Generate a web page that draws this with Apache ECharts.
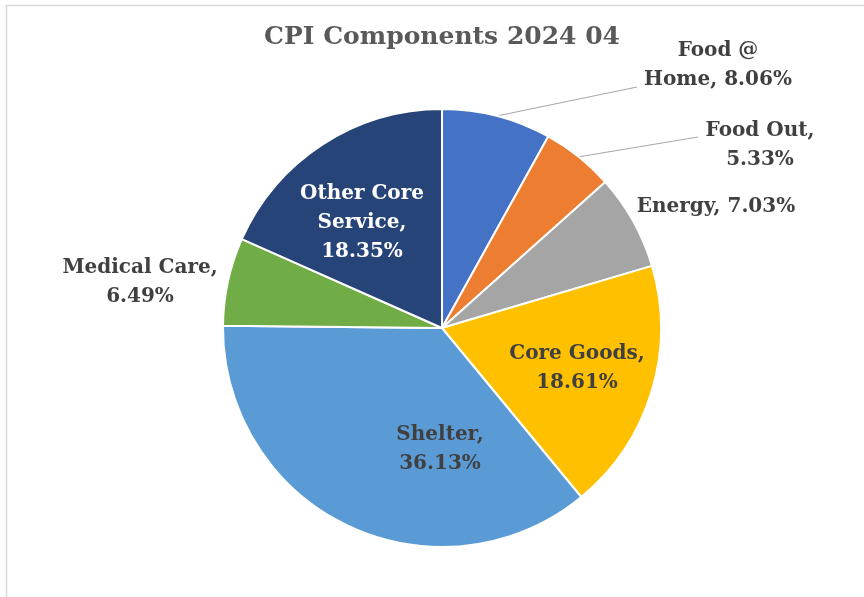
<!DOCTYPE html>
<html>
<head>
<meta charset="utf-8">
<script src="https://cdn.jsdelivr.net/npm/echarts@6/dist/echarts.min.js"></script>
<style>
  html, body { margin: 0; padding: 0; background: #fff; }
  #chart { width: 864px; height: 597px; }
</style>
</head>
<body>
<div id="chart"></div>
<script>
// CPI component weights, April 2024 (percent of total)
const categories = ['Food @ Home', 'Food Out', 'Energy', 'Core Goods', 'Shelter', 'Medical Care', 'Other Core Service'];
const weights = [8.06, 5.33, 7.03, 18.61, 36.13, 6.49, 18.35];
const colors = ['#4472C4', '#ED7D31', '#A5A5A5', '#FFC000', '#5B9BD5', '#70AD47', '#264478'];

const FONT = '"DejaVu Serif", serif';
const CX = 442, CY = 328, R = 219;

// Label placement per slice: centre offset from the pie centre, word index for
// line breaks, text colour, and optional leader-line end point.
const labelStyle = [
  { dx: 276, dy: -263, breaks: [2], color: '#404040', line: [195, -241] },
  { dx: 318, dy: -183, breaks: [2], color: '#404040', line: [256, -191] },
  { dx: 274, dy: -121, breaks: [], color: '#404040' },
  { dx: 135, dy: 40, breaks: [2], color: '#404040' },
  { dx: -2, dy: 121, breaks: [1], color: '#404040' },
  { dx: -302, dy: -46, breaks: [2], color: '#404040' },
  { dx: -80, dy: -105, breaks: [2, 3], color: '#ffffff' }
];

function labelText(i) {
  const words = (categories[i] + ', ' + weights[i].toFixed(2) + '%').split(' ');
  const brk = labelStyle[i].breaks;
  let out = '';
  words.forEach((w, k) => {
    if (k > 0) out += brk.indexOf(k) >= 0 ? '\n' : ' ';
    out += w;
  });
  return out;
}

const data = categories.map((name, i) => ({
  name,
  value: weights[i],
  itemStyle: { color: colors[i] },
  label: { color: labelStyle[i].color },
  labelLine: { show: !!labelStyle[i].line }
}));

const chart = echarts.init(document.getElementById('chart'), null, { renderer: 'canvas' });

chart.setOption({
  animation: false,
  backgroundColor: '#ffffff',
  graphic: [
    {
      type: 'rect',
      shape: { x: 6.5, y: 5.5, width: 900, height: 700 },
      style: { fill: 'none', stroke: '#d9d9d9', lineWidth: 1.5 },
      silent: true
    },
    {
      type: 'text',
      x: 442,
      y: 37,
      style: {
        text: 'CPI Components 2024 04',
        align: 'center',
        verticalAlign: 'middle',
        fill: '#595959',
        font: 'bold 25px ' + FONT
      }
    }
  ],
  series: [{
    type: 'pie',
    center: [CX, CY],
    radius: R,
    startAngle: 90,
    clockwise: true,
    avoidLabelOverlap: false,
    itemStyle: { borderColor: '#ffffff', borderWidth: 2 },
    label: {
      show: true,
      position: 'outside',
      fontFamily: FONT,
      fontWeight: 'bold',
      fontSize: 20,
      lineHeight: 29,
      align: 'center',
      formatter: p => labelText(p.dataIndex)
    },
    labelLine: {
      length: 20,
      length2: 20,
      lineStyle: { color: '#a6a6a6', width: 1 }
    },
    labelLayout: function (params) {
      const s = labelStyle[params.dataIndex];
      const res = {
        x: CX + s.dx,
        y: CY + s.dy,
        align: 'center',
        verticalAlign: 'middle'
      };
      if (s.line && params.labelLinePoints) {
        const p0 = params.labelLinePoints[0];
        const p2 = [CX + s.line[0], CY + s.line[1]];
        res.labelLinePoints = [p0, [(p0[0] + p2[0]) / 2, (p0[1] + p2[1]) / 2], p2];
      }
      return res;
    },
    data
  }]
});
</script>
</body>
</html>
